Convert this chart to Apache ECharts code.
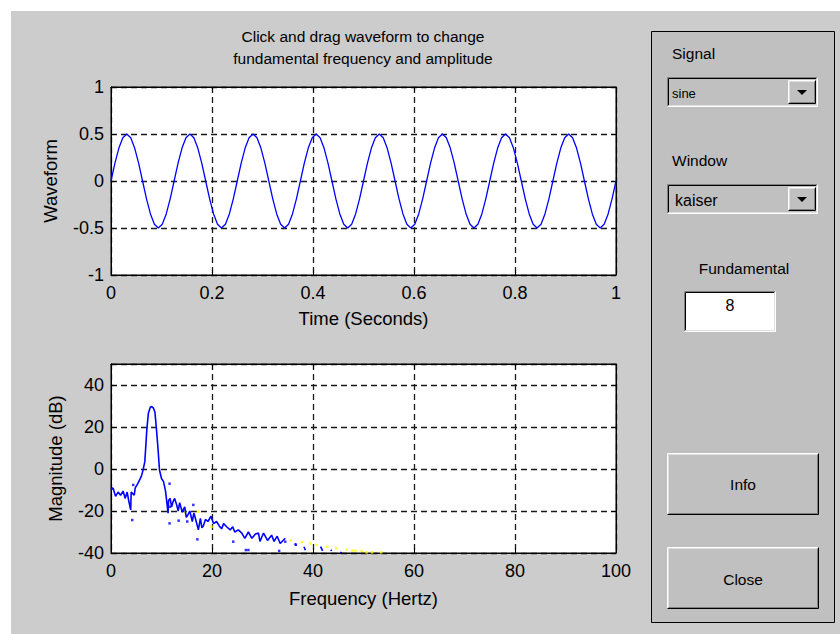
<!DOCTYPE html>
<html>
<head>
<meta charset="utf-8">
<script src="https://cdn.jsdelivr.net/npm/echarts@6/dist/echarts.min.js"></script>
<style>
html, body { margin: 0; padding: 0; background: #fff; }
#main { width: 840px; height: 634px; }
</style>
</head>
<body>
<div id="main"></div>
<script>
var titleLines = ['Click and drag waveform to change', 'fundamental frequency and amplitude'];

// waveform, 16 samples per cycle of the 8 Hz sine
var waveStep = 1 / 128;
var waveValues = [
    0, 0.19, 0.35, 0.46, 0.5, 0.46, 0.35, 0.19, 0, -0.19, -0.35, -0.46, -0.5, -0.46, -0.35, -0.19,
    0, 0.19, 0.35, 0.46, 0.5, 0.46, 0.35, 0.19, 0, -0.19, -0.35, -0.46, -0.5, -0.46, -0.35, -0.19,
    0, 0.19, 0.35, 0.46, 0.5, 0.46, 0.35, 0.19, 0, -0.19, -0.35, -0.46, -0.5, -0.46, -0.35, -0.19,
    0, 0.19, 0.35, 0.46, 0.5, 0.46, 0.35, 0.19, 0, -0.19, -0.35, -0.46, -0.5, -0.46, -0.35, -0.19,
    0, 0.19, 0.35, 0.46, 0.5, 0.46, 0.35, 0.19, 0, -0.19, -0.35, -0.46, -0.5, -0.46, -0.35, -0.19,
    0, 0.19, 0.35, 0.46, 0.5, 0.46, 0.35, 0.19, 0, -0.19, -0.35, -0.46, -0.5, -0.46, -0.35, -0.19,
    0, 0.19, 0.35, 0.46, 0.5, 0.46, 0.35, 0.19, 0, -0.19, -0.35, -0.46, -0.5, -0.46, -0.35, -0.19,
    0, 0.19, 0.35, 0.46, 0.5, 0.46, 0.35, 0.19, 0, -0.19, -0.35, -0.46, -0.5, -0.46, -0.35, -0.19,
    0
];

// spectrum (Hz, dB), null = gap in the drawn line
var specFreq = [0, 0.4, 0.9, 1.4, 1.9, 2.4, 2.8, 3.2, 3.5, 3.9, 4.0, 4.6, 4.8, 5.3, 5.6, 6.0, 6.3, 6.7,
    7.1, 7.4, 7.8, 8.06, 8.4, 8.7, 9.0, 9.3, 9.6, 10.0, 10.4, 10.8, 11.3, 11.4, 11.7, 12.0, 12.3, 12.6, 13.0, 13.3, 13.6,
    14.1, 14.6, 14.9, 15.2, 15.6, 16.1, 16.4, 16.6, 17.3, 17.7, 18.0, 18.3, 18.7, 19.2, 19.8, 20.3, 20.9, 21.4, 21.9, 22.3, 22.9,
    23.6, 24.1, 24.5, 25.2, 25.9, 26.5, 27.2, 27.9, 28.6, 29.2, 29.5, 30.2, 31.0, 31.8, 32.3, 32.9, 33.5,
    34.5, 35, 36.4, 36.7, 37, 38.2, 38.5, 39, 41.5, 41.9, 42.5, 43.5, 43.7, 44, 45.4, 45.7];
var specDb = [-10, -9, -13, -11, -12.5, -10.5, -14, -11, -15, -19.5, -11, -12.5, -9, -7, -5.5, -3.5, -1, 3.5,
    19, 26.5, 29.5, 29.7, 29, 27, 19, 10, -0.5, -4.5, -6, -10.5, -21, -15, -14, -18, -15.5, -14, -17, -20, -16,
    -20.5, -18, -23, -22, -20, -25, -21, -22.5, -29, -23.5, -28, -27, -24, -25, -22.5, -26, -25, -27, -28.5, -26, -27.5,
    -29, -27.5, -30, -29, -30.5, -33, -30, -33, -31, -30.5, -34.5, -30.5, -34, -31.5, -34.5, -32, -35.5,
    -33, null, -35.5, -36.5, null, -37, -38.7, null, -37, -39, null, -38.5, -39, null, -39.6, -40];

var blueDotFreq = [4.2, 4.4, 11.6, 11.6, 11.7, 13.4, 15.1, 16.3, 17.1, 24.2, 26.7, 27.2, 33.3, 34.5, 36.6];
var blueDotDb = [-24.3, -7.6, -25.9, -7, -18, -24.6, -25, -17.1, -33.5, -34.6, -38.6, -38.6, -39, -34.6, -36];

var yellowDotFreq = [14.7, 17.2, 19.9, 35.6, 37.8, 39.5, 40.7, 42.8, 44.6, 46.7, 47.8, 48.4, 49.6, 50.6, 51.7, 53.5];
var yellowDotDb = [-20.6, -20.3, -27.5, -34, -34.8, -35.4, -36.2, -37, -37.8, -38.4, -38.9, -38.9, -39, -39.7, -39.7, -39.7];

var signalChoice = 'sine';
var windowChoice = 'kaiser';
var fundamental = '8';

var FONT = "'Liberation Sans', Arial, sans-serif";

function pairs(xs, ys) {
    return xs.map(function (x, i) { return [x, ys[i] === null ? '-' : ys[i]]; });
}

var waveData = waveValues.map(function (v, i) { return [i * waveStep, v]; });

// windows style 3d edges
function edge(x, y, w, h, tl, br) {
    return [
        { type: 'polyline', shape: { points: [[x, y + h], [x, y], [x + w, y]] }, style: { stroke: tl, fill: null, lineWidth: 1 } },
        { type: 'polyline', shape: { points: [[x + w, y], [x + w, y + h], [x, y + h]] }, style: { stroke: br, fill: null, lineWidth: 1 } }
    ];
}
function raised(x, y, w, h, fill) {
    return [{ type: 'rect', shape: { x: x, y: y, width: w, height: h }, style: { fill: fill } }]
        .concat(edge(x + 0.5, y + 0.5, w - 1, h - 1, '#ffffff', '#000000'))
        .concat(edge(x + 1.5, y + 1.5, w - 3, h - 3, '#dfdfdf', '#808080'));
}
function sunken(x, y, w, h, fill) {
    return [{ type: 'rect', shape: { x: x, y: y, width: w, height: h }, style: { fill: fill } }]
        .concat(edge(x + 0.5, y + 0.5, w - 1, h - 1, '#808080', '#ffffff'))
        .concat(edge(x + 1.5, y + 1.5, w - 3, h - 3, '#000000', '#dfdfdf'));
}
function label(text, x, y, size, align) {
    return { type: 'text', x: x, y: y, style: { text: text, fill: '#000', font: size + 'px ' + FONT, textAlign: align || 'left', textVerticalAlign: 'middle' } };
}
function popup(x, y, w, h, text, size, textX) {
    var bx = x + w - 30;
    return sunken(x, y, w, h, '#c0c0c0')
        .concat(raised(bx, y + 3, 28, h - 6, '#c0c0c0'))
        .concat([
            { type: 'polygon', shape: { points: [[bx + 9, y + h / 2 - 2], [bx + 19, y + h / 2 - 2], [bx + 14, y + h / 2 + 3]] }, style: { fill: '#000' } },
            label(text, textX, y + h / 2 + 1, size)
        ]);
}

var graphics = [
    { type: 'rect', shape: { x: 0, y: 0, width: 840, height: 11 }, style: { fill: '#ffffff' } },
    { type: 'rect', shape: { x: 0, y: 0, width: 11, height: 634 }, style: { fill: '#ffffff' } },
    { type: 'text', x: 363, y: 47, style: { text: titleLines.join('\n'), fill: '#000', font: '15.5px ' + FONT, textAlign: 'center', textVerticalAlign: 'middle', lineHeight: 22 } },
    { type: 'rect', shape: { x: 651.5, y: 31.5, width: 183, height: 591 }, style: { fill: '#c0c0c0', stroke: '#000', lineWidth: 1 } },
    label('Signal', 672, 53, 15.5),
    label('Window', 672, 160, 15.5),
    label('Fundamental', 744, 268, 15.5, 'center')
]
    .concat(popup(667, 77, 151, 30, signalChoice, 13, 672))
    .concat(popup(667, 184, 151, 30, windowChoice, 16, 675))
    .concat(sunken(684, 291, 92, 41, '#ffffff'))
    .concat([label(fundamental, 730, 305, 16, 'center')])
    .concat(raised(667, 453, 152, 62, '#c0c0c0'))
    .concat([label('Info', 743, 484, 15.5, 'center')])
    .concat(raised(667, 547, 152, 62, '#c0c0c0'))
    .concat([label('Close', 743, 579, 15.5, 'center')]);

var gridDash = { color: '#1a1a1a', width: 1.3, type: [6, 4] };

function mainX(grid, min, max, step, name, gap) {
    return {
        gridIndex: grid, type: 'value', min: min, max: max, interval: step, position: 'bottom',
        name: name, nameLocation: 'middle', nameGap: gap,
        nameTextStyle: { color: '#000', fontSize: 18.5, fontFamily: FONT },
        axisLine: { show: true, onZero: false, lineStyle: { color: '#000', width: 1 } },
        axisTick: { show: true, inside: true, length: 5, lineStyle: { color: '#000' } },
        axisLabel: { color: '#000', fontSize: 18, fontFamily: FONT, margin: 9 },
        splitLine: { show: true, lineStyle: gridDash }
    };
}
function mainY(grid, min, max, step, name, gap) {
    return {
        gridIndex: grid, type: 'value', min: min, max: max, interval: step, position: 'left',
        name: name, nameLocation: 'middle', nameGap: gap,
        nameTextStyle: { color: '#000', fontSize: 18.5, fontFamily: FONT },
        axisLine: { show: true, onZero: false, lineStyle: { color: '#000', width: 1 } },
        axisTick: { show: true, inside: true, length: 5, lineStyle: { color: '#000' } },
        axisLabel: { color: '#000', fontSize: 18, fontFamily: FONT, margin: 7, showMaxLabel: max % step === 0 },
        splitLine: { show: true, lineStyle: gridDash }
    };
}
function boxAxis(grid, min, max, step, pos) {
    return {
        gridIndex: grid, type: 'value', min: min, max: max, interval: step, position: pos,
        axisLine: { show: true, onZero: false, lineStyle: { color: '#000', width: 1 } },
        axisTick: { show: true, inside: true, length: 5, lineStyle: { color: '#000' } },
        axisLabel: { show: false },
        splitLine: { show: false }
    };
}

var dom = document.getElementById('main');
var myChart = echarts.init(dom, null, { renderer: 'svg' });
myChart.setOption({
    animation: false,
    backgroundColor: '#cccccc',
    graphic: graphics,
    grid: [
        { left: 111, top: 87, width: 505, height: 188, show: true, backgroundColor: '#ffffff', borderColor: '#000', borderWidth: 1 },
        { left: 111, top: 364, width: 505, height: 189, show: true, backgroundColor: '#ffffff', borderColor: '#000', borderWidth: 1 }
    ],
    xAxis: [
        mainX(0, 0, 1, 0.2, 'Time (Seconds)', 34),
        boxAxis(0, 0, 1, 0.2, 'top'),
        mainX(1, 0, 100, 20, 'Frequency (Hertz)', 36),
        boxAxis(1, 0, 100, 20, 'top')
    ],
    yAxis: [
        mainY(0, -1, 1, 0.5, 'Waveform', 51),
        boxAxis(0, -1, 1, 0.5, 'right'),
        mainY(1, -40, 50, 20, 'Magnitude (dB)', 46),
        boxAxis(1, -40, 50, 20, 'right')
    ],
    series: [
        {
            type: 'line', xAxisIndex: 0, yAxisIndex: 0, data: waveData,
            showSymbol: false, lineStyle: { color: '#0000ff', width: 1.3 }, silent: true
        },
        {
            type: 'line', xAxisIndex: 2, yAxisIndex: 2, data: pairs(specFreq, specDb),
            showSymbol: false, connectNulls: false, lineStyle: { color: '#0000ff', width: 1.6 }, silent: true
        },
        {
            type: 'scatter', xAxisIndex: 2, yAxisIndex: 2, data: pairs(blueDotFreq, blueDotDb),
            symbol: 'rect', symbolSize: 2.5, itemStyle: { color: '#0000ff' }, silent: true
        },
        {
            type: 'scatter', xAxisIndex: 2, yAxisIndex: 2, data: pairs(yellowDotFreq, yellowDotDb),
            symbol: 'rect', symbolSize: 2.5, itemStyle: { color: '#ffff00' }, silent: true
        }
    ]
});
</script>
</body>
</html>
